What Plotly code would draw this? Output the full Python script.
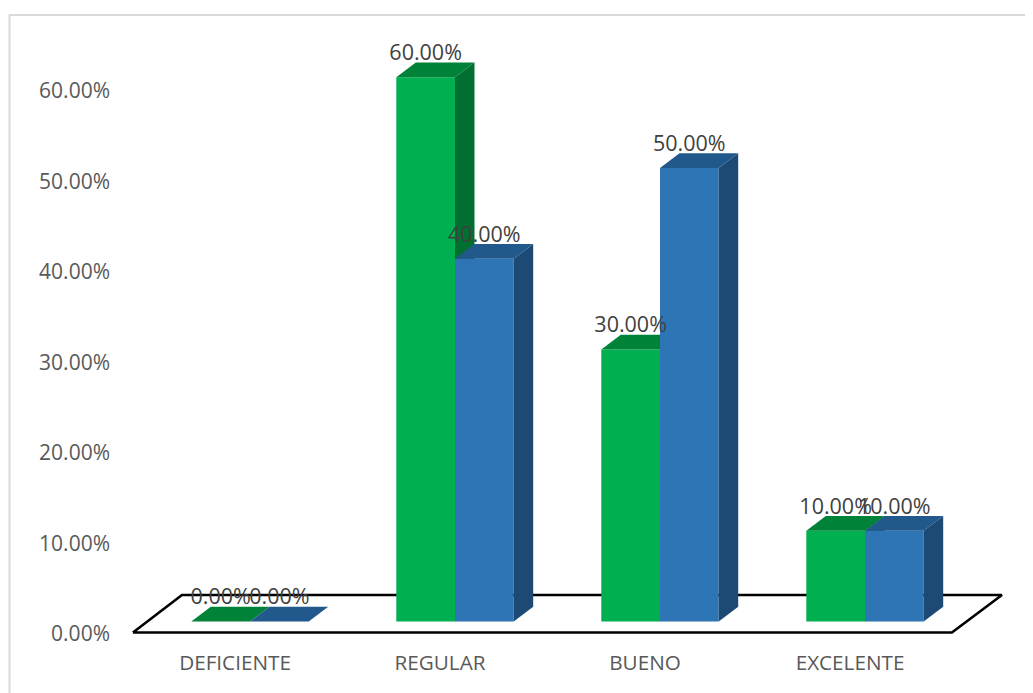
import plotly.graph_objects as go

categories = ["DEFICIENTE", "REGULAR", "BUENO", "EXCELENTE"]
serie_verde = [0.0, 0.60, 0.30, 0.10]
serie_azul = [0.0, 0.40, 0.50, 0.10]
y_ticks = [0.0, 0.1, 0.2, 0.3, 0.4, 0.5, 0.6]

VERDE = dict(front="#00b050", top="#008238", side="#006f30")
AZUL = dict(front="#2e75b6", top="#22598c", side="#1d4a75")
TEXT_AXIS = "#595959"
TEXT_LABEL = "#404040"
FONT = "Open Sans"

# The page body adds an 8 px margin, so figure pixels = page pixels - 8
OFF = 8
W, H = 1033 - OFF, 693 - OFF
L, R, T, B = 120 - OFF, 1033 - OFF, 15 - OFF, 646 - OFF
X_LABEL0 = 235 - OFF
X_MARK0 = 250 - OFF
Y_LABEL0 = 634 - OFF
Y_MARK0 = 621.5 - OFF

PX_CAT = 205.0            # pixels per category
PX_UNIT = 907.0           # pixels per 100 %
BAR_W = 58.7 / PX_CAT     # bar width in category units
DX = 19.5 / PX_CAT        # oblique depth, x
DY = 14.7 / PX_UNIT       # oblique depth, y
LABEL_UP = 22.5 / PX_UNIT

xr_labels = [(L - X_LABEL0) / PX_CAT, (R - X_LABEL0) / PX_CAT]
xr_marks = [(L - X_MARK0) / PX_CAT, (R - X_MARK0) / PX_CAT]
yr_labels = [-(B - Y_LABEL0) / 905.0, (Y_LABEL0 - T) / 905.0]
yr_marks = [-(B - Y_MARK0) / PX_UNIT, (Y_MARK0 - T) / PX_UNIT]

idx = list(range(len(categories)))
fig = go.Figure()

# floor (drawn on the bottom layer)
fx = [-0.571, 3.424, 3.668, -0.332, -0.571]
fy = [-0.0122, -0.0122, 0.0292, 0.0292, -0.0122]
fig.add_trace(go.Scatter(x=fx, y=fy, xaxis="x2", yaxis="y2", mode="lines",
                         line=dict(color="#000000", width=2.6), hoverinfo="skip", showlegend=False))


def poly(xs, ys, color, xa, ya):
    fig.add_trace(go.Scatter(x=xs, y=ys, xaxis=xa, yaxis=ya, mode="lines", fill="toself",
                             fillcolor=color, line=dict(width=0), hoverinfo="skip", showlegend=False))


def series(values, colors, offset, xa, ya, name):
    xs = [i + offset for i in idx]
    fig.add_trace(go.Bar(x=xs, y=values, width=BAR_W, xaxis=xa, yaxis=ya, name=name,
                         marker=dict(color=colors["front"], line=dict(width=0)), showlegend=False))
    for x, v in zip(xs, values):
        x0, x1 = x - BAR_W / 2, x + BAR_W / 2
        poly([x0, x1, x1 + DX, x0 + DX, x0], [v, v, v + DY, v + DY, v], colors["top"], xa, ya)
        if v > 0:
            poly([x1, x1 + DX, x1 + DX, x1, x1], [0, DY, v + DY, v, 0], colors["side"], xa, ya)


series(serie_verde, VERDE, -BAR_W / 2, "x3", "y3", "Serie 1")
series(serie_azul, AZUL, BAR_W / 2, "x4", "y4", "Serie 2")

# data labels, topmost
for values, offset in ((serie_verde, -BAR_W / 2), (serie_azul, BAR_W / 2)):
    fig.add_trace(go.Scatter(x=[i + offset for i in idx], y=[v + LABEL_UP for v in values],
                             xaxis="x4", yaxis="y4", mode="text",
                             text=[f"{v * 100:.2f}%" for v in values], textposition="middle center",
                             textfont=dict(family=FONT, size=21.5, color=TEXT_LABEL),
                             hoverinfo="skip", showlegend=False, cliponaxis=False))

# invisible trace so the primary axes exist with labels
fig.add_trace(go.Scatter(x=idx, y=[0] * len(idx), xaxis="x", yaxis="y", mode="markers",
                         marker=dict(opacity=0), hoverinfo="skip", showlegend=False))

hidden = dict(visible=False, fixedrange=True)
fig.update_layout(
    width=W, height=H, autosize=False,
    margin=dict(l=L, r=W - R, t=T, b=H - B, pad=0),
    paper_bgcolor="white", plot_bgcolor="rgba(0,0,0,0)",
    barmode="overlay", showlegend=False,
    xaxis=dict(range=xr_labels, tickmode="array", tickvals=idx, ticktext=categories,
               showgrid=False, zeroline=False, showline=False, ticks="", ticklabelstandoff=2,
               tickfont=dict(family=FONT, size=20.7, color=TEXT_AXIS), fixedrange=True),
    yaxis=dict(range=yr_labels, tickmode="array", tickvals=y_ticks, tickformat=".2%",
               showgrid=False, zeroline=False, showline=False, ticks="", ticklabelstandoff=9,
               tickfont=dict(family=FONT, size=21, color=TEXT_AXIS), fixedrange=True),
    xaxis2=dict(range=xr_marks, overlaying="x", anchor="y2", **hidden),
    yaxis2=dict(range=yr_marks, overlaying="y", anchor="x2", **hidden),
    xaxis3=dict(range=xr_marks, overlaying="x", anchor="y3", **hidden),
    yaxis3=dict(range=yr_marks, overlaying="y", anchor="x3", **hidden),
    xaxis4=dict(range=xr_marks, overlaying="x", anchor="y4", **hidden),
    yaxis4=dict(range=yr_marks, overlaying="y", anchor="x4", **hidden),
    shapes=[dict(type="path", xref="paper", yref="paper", layer="below",
                 path=f"M {(9.5 - OFF - L) / (R - L)} {-(H + 5 - B) / (B - T)} L {(9.5 - OFF - L) / (R - L)} 1 L 1.01 1",
                 line=dict(color="#d9d9d9", width=2))],
)

fig.write_html("out.html", config=dict(displayModeBar=False))
